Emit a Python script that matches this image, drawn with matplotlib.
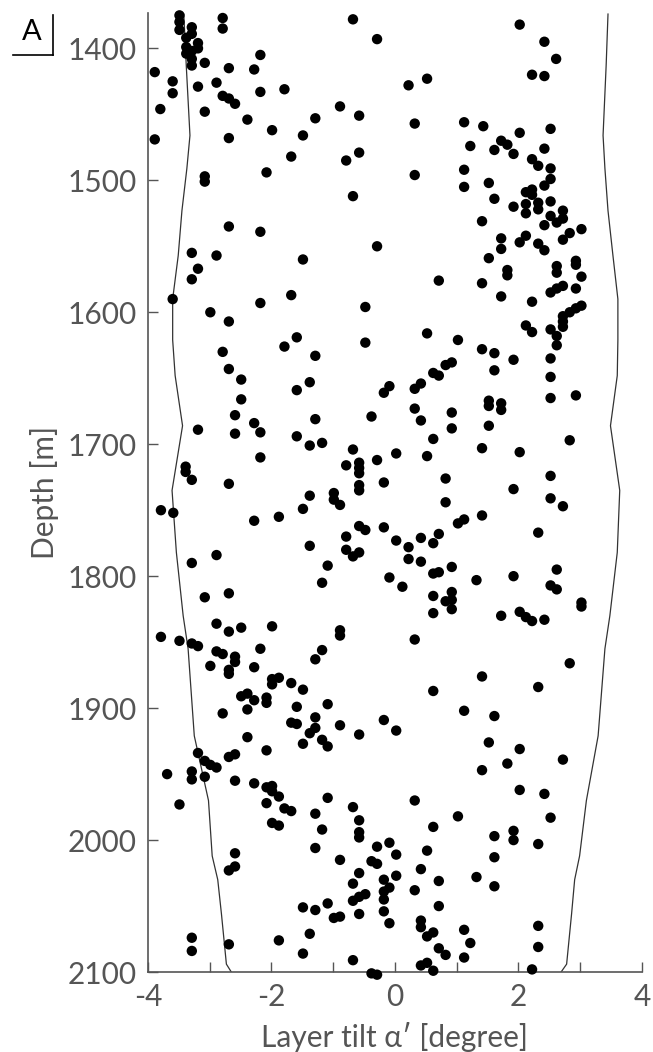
import matplotlib
matplotlib.use("Agg")
import matplotlib.pyplot as plt
from matplotlib.lines import Line2D
from matplotlib.ticker import FixedLocator

# ---------------- data ----------------
tilt = [
 -3.49,-3.49,-3.49,-3.29,-3.29,-3.38,-3.19,-3.38,-3.19,-3.38,-3.29,-3.29,-3.29,-2.79,-2.79,-0.68,-0.29,2.02,2.42,2.61,2.22,2.42,-2.18,-3.08,-2.69,-2.28,-3.89,-3.60,-3.60,-3.19,-2.89,-2.79,-2.69,-2.59,-2.18,-1.79,-3.80,-3.08,-2.39,-1.29,-0.89,-0.58,0.22,0.52,0.32,1.12,1.43,2.52,-1.99,
 2.02,-1.49,-2.69,-3.89,1.22,1.72,1.82,2.42,1.61,1.92,2.22,2.32,2.52,2.52,2.42,1.12,1.12,1.52,0.32,-0.58,-0.79,-1.68,-2.08,-3.08,-3.08,-0.68,1.61,2.12,2.22,2.22,1.92,2.12,2.12,2.32,2.32,2.52,2.52,2.72,2.72,2.62,2.42,1.41,3.02,2.83,2.72,2.12,2.02,1.72,1.72,2.32,2.42,-2.69,-2.18,-0.29,
 -3.29,-2.89,-1.49,1.52,-3.19,-3.29,-3.60,-2.99,-2.69,-2.18,-1.68,-0.48,0.71,1.41,1.72,1.82,1.82,2.62,2.62,2.93,2.93,3.02,2.93,2.72,2.62,2.52,2.22,3.02,2.93,2.83,2.72,2.72,2.72,2.12,2.22,2.52,2.62,2.62,2.52,0.52,1.02,1.41,1.61,1.92,0.82,0.92,1.61,-0.48,-1.29,-1.59,-1.79,-2.79,-2.69,
 -2.49,-2.49,-2.59,-2.59,-2.28,-2.18,-3.19,-2.18,-3.39,-3.39,-3.29,-2.69,-1.59,-1.38,-1.29,-1.59,-1.38,-1.18,-0.68,-0.79,-0.58,-0.58,-0.58,-0.58,-0.58,-0.29,-0.18,0.02,-0.38,-0.18,-0.09,0.32,0.42,0.62,0.71,0.32,0.42,0.92,0.92,0.62,0.52,0.82,1.52,1.52,1.72,1.72,1.52,1.41,2.02,2.52,2.52,2.93,2.83,2.52,1.92,
 -1.38,-0.99,-0.99,-0.89,2.52,2.72,0.82,1.41,1.02,1.12,2.32,-3.79,-3.59,-2.28,-1.88,-1.49,-0.58,-0.48,-0.18,-0.79,-1.38,-0.79,-0.58,-0.68,0.02,0.22,0.42,0.62,0.71,0.22,0.42,0.92,0.62,0.71,1.92,2.62,1.32,2.52,2.62,-0.09,0.12,-1.18,-1.09,-3.29,-2.89,-3.08,-2.69,0.62,0.92,0.82,0.92,0.92,3.02,3.02,2.02,
 0.62,1.72,2.12,2.22,2.42,-3.79,-3.49,-3.29,-3.19,-2.89,-2.69,-2.49,-1.99,-2.18,-2.89,-2.79,-2.59,-2.59,-2.99,-2.69,-2.69,-2.28,-0.89,-0.89,-1.18,-1.29,0.32,-1.99,-1.99,-1.88,-1.68,-1.49,-2.49,-2.39,-2.28,-2.08,-2.08,-2.39,-2.79,-1.59,-1.09,-1.68,-1.59,-1.29,-1.29,-0.89,-0.18,0.02,0.62,1.12,1.41,1.61,2.32,2.83,
 -1.38,-0.58,-1.18,-1.09,-1.49,-2.39,-2.08,-3.19,-3.08,-2.99,-2.89,-2.69,-2.59,-3.29,-3.29,-3.08,-3.69,-3.49,-2.59,-2.28,-2.08,-1.99,-1.99,-1.88,-2.08,-1.79,-1.68,-1.99,-1.88,-1.09,-0.68,-1.29,-0.58,-1.18,-0.58,-0.58,-0.29,-0.09,-1.29,0.32,1.02,0.62,0.52,1.52,2.02,2.72,1.82,1.41,2.02,2.42,2.52,1.61,1.92,1.92,2.32,
 0.02,-2.59,-2.69,-2.59,-0.89,-0.38,-0.29,-0.58,-0.18,0.02,0.42,-0.68,-0.09,-0.18,-0.18,-0.48,-0.58,-0.68,0.32,0.71,1.32,1.61,1.61,0.71,-1.09,-1.49,-1.29,-0.99,-0.89,-0.58,-0.18,-0.09,0.42,0.42,0.52,0.62,1.12,1.22,0.71,0.82,1.12,2.32,2.32,2.22,-1.38,-1.88,-1.49,-0.68,-0.38,-0.29,0.42,0.52,0.62,-3.29,-3.29,-2.69,
]
depth = [
 1375,1380,1386,1384,1389,1392,1396,1399,1400,1404,1402,1408,1413,1377,1385,1378,1393,1382,1395,1408,1420,1421,1405,1411,1415,1416,1418,1425,1434,1429,1426,1436,1438,1442,1433,1431,1446,1448,1454,1453,1444,1451,1428,1423,1457,1456,1459,1461,1462,
 1464,1466,1468,1469,1474,1470,1473,1476,1477,1480,1484,1489,1491,1499,1504,1492,1505,1502,1496,1479,1485,1482,1494,1497,1501,1512,1514,1509,1507,1511,1520,1518,1525,1517,1522,1516,1527,1523,1529,1532,1534,1531,1537,1540,1545,1542,1547,1544,1552,1548,1553,1535,1539,1550,
 1555,1557,1560,1559,1567,1575,1590,1600,1607,1593,1587,1596,1576,1578,1588,1568,1572,1565,1570,1561,1564,1573,1582,1580,1582,1585,1592,1595,1597,1600,1603,1607,1611,1610,1615,1613,1618,1625,1635,1616,1621,1628,1631,1636,1640,1638,1644,1623,1633,1619,1626,1630,1643,
 1651,1666,1678,1692,1684,1691,1689,1710,1717,1721,1727,1730,1659,1653,1681,1694,1701,1699,1704,1716,1714,1718,1722,1731,1735,1712,1729,1707,1679,1661,1656,1658,1654,1646,1648,1673,1682,1676,1688,1696,1709,1726,1667,1671,1669,1674,1686,1703,1706,1649,1665,1663,1697,1724,1734,
 1739,1737,1742,1746,1741,1747,1744,1754,1760,1757,1767,1750,1752,1758,1755,1749,1762,1765,1763,1770,1777,1780,1782,1785,1773,1778,1771,1775,1768,1787,1789,1793,1798,1797,1800,1795,1803,1807,1810,1801,1808,1805,1792,1790,1784,1816,1813,1815,1812,1819,1818,1825,1820,1823,1827,
 1828,1830,1831,1834,1833,1846,1849,1851,1853,1836,1842,1839,1838,1855,1857,1859,1861,1865,1868,1871,1874,1869,1841,1845,1856,1863,1848,1878,1882,1877,1881,1886,1891,1889,1894,1892,1896,1901,1904,1899,1897,1911,1912,1907,1915,1913,1909,1917,1887,1902,1876,1906,1884,1866,
 1919,1920,1924,1929,1927,1922,1932,1934,1940,1943,1945,1937,1935,1948,1954,1952,1950,1973,1955,1957,1960,1959,1963,1967,1972,1976,1978,1987,1989,1968,1975,1980,1985,1992,1994,1998,2005,2002,2006,1970,1982,1990,2008,1926,1931,1939,1942,1947,1962,1965,1983,1997,1993,2000,2003,
 2011,2010,2023,2020,2015,2016,2018,2025,2030,2027,2022,2033,2036,2039,2045,2041,2043,2046,2038,2031,2028,2013,2035,2050,2048,2051,2053,2059,2058,2056,2054,2063,2061,2066,2073,2070,2068,2078,2082,2087,2089,2065,2081,2098,2071,2076,2086,2091,2101,2102,2095,2093,2099,2074,2084,2079,
]

env_depth = [1374, 1413, 1466, 1491, 1523, 1557, 1590, 1621, 1648, 1686, 1735, 1782,
             1830, 1855, 1921, 1970, 2012, 2030, 2056, 2094, 2100]
env_left = [-3.42, -3.38, -3.32, -3.37, -3.45, -3.51, -3.60, -3.60, -3.56, -3.44, -3.61, -3.54,
            -3.43, -3.35, -3.25, -3.02, -2.96, -2.87, -2.81, -2.73, -2.65]
env_right = [3.45, 3.42, 3.37, 3.40, 3.45, 3.53, 3.61, 3.61, 3.60, 3.49, 3.64, 3.60,
             3.48, 3.40, 3.29, 3.10, 2.99, 2.91, 2.86, 2.78, 2.69]

x_major = [-4, -2, 0, 2, 4]
x_minor = [-3, -1, 1, 3]
y_ticks = [1400, 1500, 1600, 1700, 1800, 1900, 2000, 2100]

# ---------------- style ----------------
FONT = ['Lato', 'DejaVu Sans']
plt.rcParams['font.family'] = FONT
plt.rcParams['axes.unicode_minus'] = False
GREY = '#555555'

fig = plt.figure(figsize=(6.53, 10.52), dpi=100)
ax = fig.add_axes([0.2266, 0.0760, 0.7565, 0.9114])

ax.plot(env_left, env_depth, color='#333333', lw=0.9, zorder=2)
ax.plot(env_right, env_depth, color='#333333', lw=0.9, zorder=2)
ax.scatter(tilt, depth, s=56, color='black', edgecolors='none', zorder=3, clip_on=False)

ax.set_xlim(-4, 4)
ax.set_ylim(2100, 1373.4)

for side in ('top', 'right'):
    ax.spines[side].set_visible(False)
for side in ('left', 'bottom'):
    ax.spines[side].set_color(GREY)
    ax.spines[side].set_linewidth(1.2)

ax.xaxis.set_major_locator(FixedLocator(x_major))
ax.xaxis.set_minor_locator(FixedLocator(x_minor))
ax.yaxis.set_major_locator(FixedLocator(y_ticks))
ax.tick_params(which='both', direction='in', length=7, width=1.0, color=GREY,
               labelcolor=GREY, labelsize=21.5, pad=8)

ax.set_xlabel('Layer tilt α′ [degree]', fontsize=21.5, color=GREY, labelpad=8)
ax.set_ylabel('Depth [m]', fontsize=21.5, color=GREY, labelpad=6)

# panel label "A" with corner bracket
fig.text(0.049, 0.9696, 'A', fontsize=21, color='black', ha='center', va='center')
fig.add_artist(Line2D([0.0199, 0.0812], [0.9477, 0.9477], transform=fig.transFigure,
                      color='black', lw=1.2))
fig.add_artist(Line2D([0.0812, 0.0812], [0.9477, 0.9857], transform=fig.transFigure,
                      color='black', lw=1.2))

fig.savefig('out.png', dpi=100)
